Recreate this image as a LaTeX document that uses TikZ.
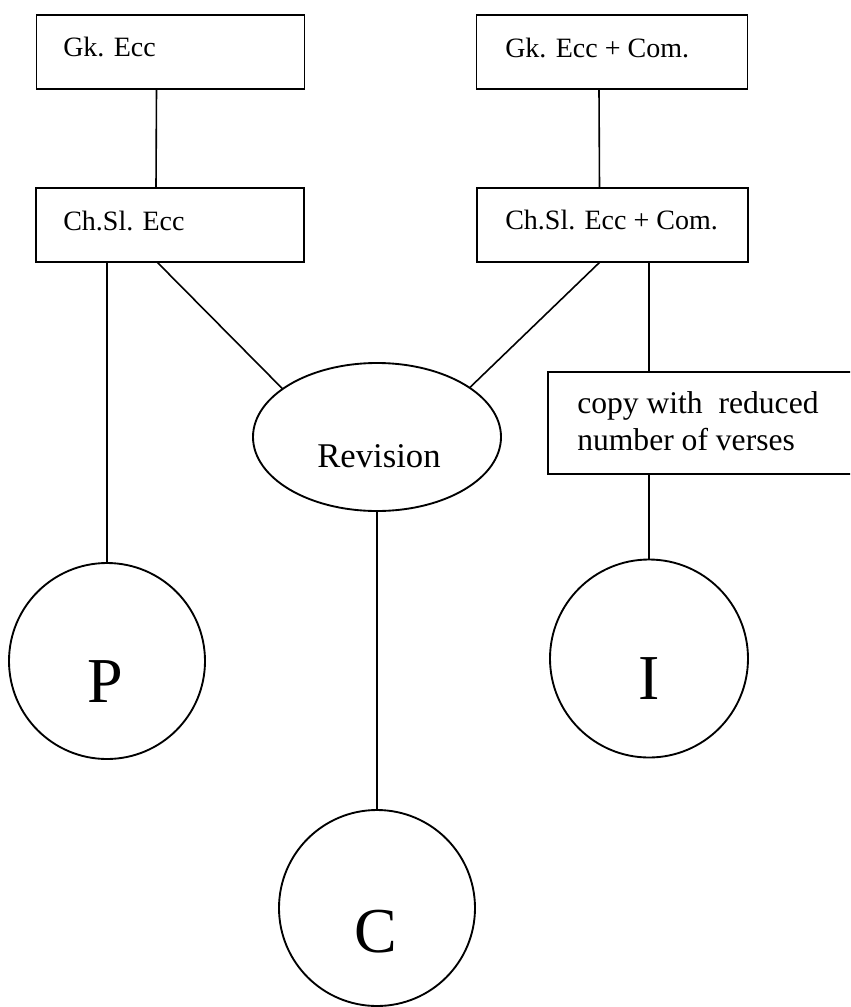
\documentclass[tikz,border=0pt]{standalone}
\usepackage{fontspec}
\setmainfont{Liberation Serif}
\usetikzlibrary{shapes.geometric}
\tikzset{
  boxL/.style={draw, rectangle, line width=1.4pt, inner sep=0pt, outer sep=0pt, minimum width=201pt, minimum height=55.5pt},
  boxR/.style={draw, rectangle, line width=1.4pt, inner sep=0pt, outer sep=0pt, minimum width=203.25pt, minimum height=55.5pt},
  copybox/.style={draw, rectangle, line width=1.4pt, inner sep=0pt, outer sep=0pt, minimum width=264pt, minimum height=76.5pt},
  oval/.style={draw, ellipse, line width=1.4pt, inner sep=0pt, outer sep=0pt, minimum width=186pt, minimum height=111pt},
  ms/.style={draw, circle, line width=1.4pt, inner sep=0pt, outer sep=0pt, minimum size=147pt},
  boxtext/.style={inner sep=0pt, anchor=base west, font=\fontsize{21}{25}\selectfont},
  copytext/.style={inner sep=0pt, anchor=base west, font=\fontsize{23.7}{28}\selectfont},
  revtext/.style={inner sep=0pt, anchor=base, font=\fontsize{26}{31}\selectfont},
  sigla/.style={inner sep=0pt, anchor=base, font=\fontsize{48}{56}\selectfont},
  link/.style={line width=1.2pt}
}
\begin{document}
\begin{tikzpicture}[x=0.75pt,y=-0.75pt]
\clip (0,0) rectangle (850,1007);
\fill[white] (0,0) rectangle (850,1007);

\node[boxL] (gk) at (170.5,52) {};
\node[boxR] (gkc) at (612,52) {};
\node[boxL] (ch) at (170,225) {};
\node[boxR] (chc) at (612.5,225) {};
\node[copybox] (copy) at (724,423) {};
\node[oval] (rev) at (377,437) {};
\node[ms] (P) at (107,661) {};
\node[ms, minimum size=148.5pt] (I) at (649,658.5) {};
\node[ms] (C) at (377,908) {};

\node[boxtext] (gkT) at (63,56) {Gk. Ecc};
\node[boxtext] (gkcT) at (505,57) {Gk. Ecc + Com.};
\node[boxtext] (chT) at (63,230) {Ch.Sl. Ecc};
\node[boxtext] (chcT) at (505,229) {Ch.Sl. Ecc + Com.};
\node[copytext] (copyT1) at (577,413) {copy with\ \ reduced};
\node[copytext] (copyT2) at (577,450) {number of verses};
\node[revtext] (revT) at (379,467) {Revision};
\node[sigla] (PT) at (105,702) {P};
\node[sigla] (IT) at (649,699) {I};
\node[sigla] (CT) at (376,952) {C};

\draw[link] ([xshift=-10.5pt]gk.south) -- ([xshift=-10.5pt]ch.north);
\draw[link] ([xshift=-9.75pt]gkc.south) -- ([xshift=-9.75pt]chc.north);
\draw[link] (P.north |- ch.south) -- (P.north);
\draw[link] ([xshift=-9.75pt]ch.south) -- (rev.153);
\draw[link] ([xshift=-9.4pt]chc.south) -- (rev.28);
\draw[link] (I.north |- chc.south) -- (I.north |- copy.north);
\draw[link] (I.north |- copy.south) -- (I.north);
\draw[link] (rev.south) -- (C.north);
\end{tikzpicture}
\end{document}
